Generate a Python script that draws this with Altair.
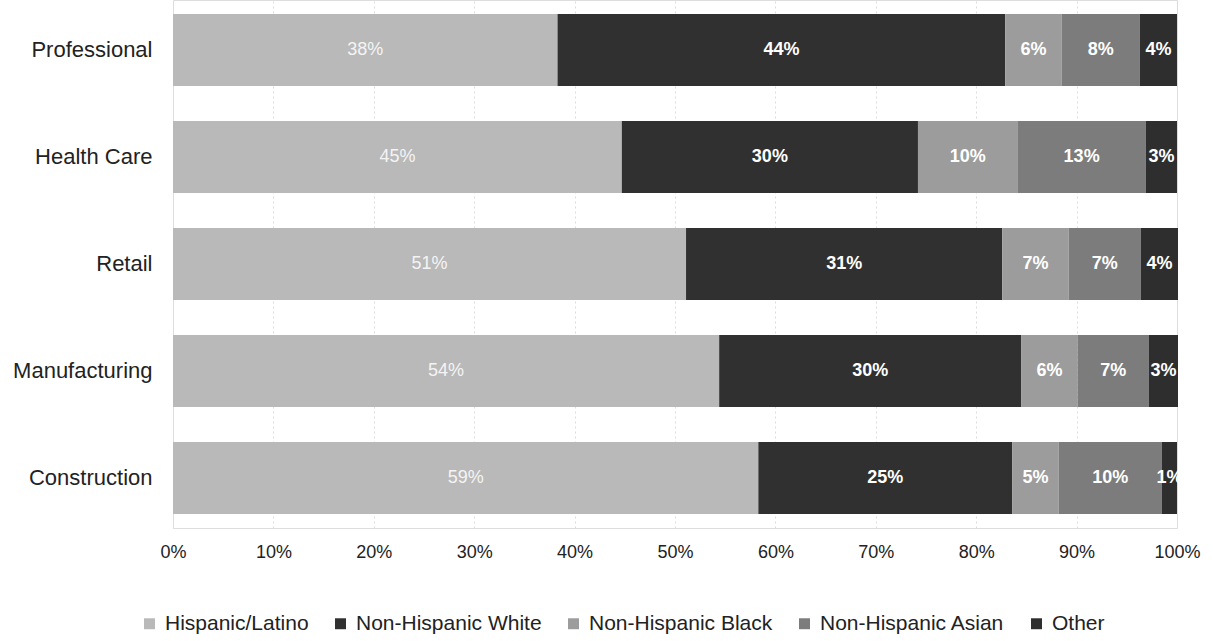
import altair as alt
import pandas as pd

industries = ["Professional", "Health Care", "Retail", "Manufacturing", "Construction"]
groups = ["Hispanic/Latino", "Non-Hispanic White", "Non-Hispanic Black", "Non-Hispanic Asian", "Other"]
hispanic = [38.3, 44.7, 51.1, 54.4, 58.3]
white = [44.6, 29.5, 31.5, 30.1, 25.3]
black = [5.6, 9.9, 6.6, 5.6, 4.6]
asian = [7.8, 12.8, 7.2, 7.1, 10.3]
other = [3.7, 3.1, 3.7, 2.9, 1.5]
labels = {
    "Hispanic/Latino": ["38%", "45%", "51%", "54%", "59%"],
    "Non-Hispanic White": ["44%", "30%", "31%", "30%", "25%"],
    "Non-Hispanic Black": ["6%", "10%", "7%", "6%", "5%"],
    "Non-Hispanic Asian": ["8%", "13%", "7%", "7%", "10%"],
    "Other": ["4%", "3%", "4%", "3%", "1%"],
}
colors = ["#b9b9b9", "#303030", "#9c9c9c", "#7c7c7c", "#2e2e2e"]

series = [hispanic, white, black, asian, other]
rows = []
for gi, (g, vals) in enumerate(zip(groups, series)):
    for ii, ind in enumerate(industries):
        rows.append({"industry": ind, "group": g, "value": vals[ii] / 100.0,
                     "order": gi, "label": labels[g][ii], "bold": gi > 0})
df = pd.DataFrame(rows)

base = alt.Chart(df).transform_stack(
    stack="value", groupby=["industry"], as_=["x0", "x1"],
    sort=[alt.SortField("order", "ascending")]
).transform_calculate(mid="(datum.x0 + datum.x1) / 2")

yenc = alt.Y("industry:N", sort=industries, title=None,
             scale=alt.Scale(paddingInner=0.327, paddingOuter=0.13),
             axis=alt.Axis(labelFontSize=22, labelColor="#222222", labelFont="Liberation Sans",
                           ticks=False, domain=False, labelPadding=21))

bars = base.mark_bar().encode(
    x=alt.X("x0:Q", scale=alt.Scale(domain=[0, 1], nice=False),
            axis=alt.Axis(format=".0%", values=[i / 10 for i in range(11)], title=None,
                          labelFontSize=18, labelColor="#222222", labelFont="Liberation Sans",
                          ticks=False, domain=False, labelPadding=15, labelFlush=False,
                          grid=True, gridColor="#dddddd", gridDash=[2, 3], gridWidth=1)),
    x2="x1:Q",
    y=yenc,
    color=alt.Color("group:N", sort=groups,
                    scale=alt.Scale(domain=groups, range=colors),
                    legend=alt.Legend(title=None, orient="none", legendX=-34, legendY=613,
                                      direction="horizontal", columns=5, symbolType="square",
                                      symbolSize=120, labelFontSize=21, labelColor="#222222",
                                      labelFont="Liberation Sans", columnPadding=21,
                                      labelOffset=5, symbolStrokeWidth=0, labelLimit=400)),
    order=alt.Order("order:Q"),
)

txt_reg = base.transform_filter("!datum.bold").mark_text(
    color="#f4f4f4", fontSize=18, font="Liberation Sans").encode(
    x="mid:Q", y=alt.Y("industry:N", sort=industries), text="label:N")
txt_bold = base.transform_filter("datum.bold").mark_text(
    color="#ffffff", fontSize=18, fontWeight="bold", font="Liberation Sans").encode(
    x="mid:Q", y=alt.Y("industry:N", sort=industries), text="label:N")

chart = alt.layer(bars, txt_reg, txt_bold).properties(
    width=1004, height=528,
    autosize=alt.AutoSizeParams(type="none"),
    padding={"left": 173, "top": 0, "right": 36, "bottom": 113},
).configure_view(stroke=None).configure(background="white")

chart.save("out.html", embed_options={"renderer": "svg", "actions": False})
